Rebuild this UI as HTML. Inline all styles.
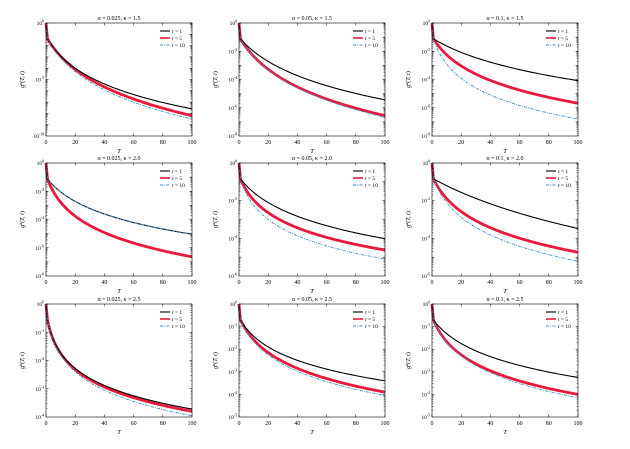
<!DOCTYPE html>
<html><head><meta charset="utf-8"><style>
html,body{margin:0;padding:0;background:#fff;}
svg{display:block;font-family:"Liberation Serif",serif;}
</style></head><body>
<svg id="s" width="630" height="449" xmlns="http://www.w3.org/2000/svg"></svg>
<script>
const svg=document.getElementById('s');
let h='';
const cols=[46,239,432], rows=[23,163,304], W=146, H=113;
const P=[
 {t:'α = 0.025, κ = 1.5',dec:10,lab:[0,-5,-10],c:[[0.76,0.40],[0.82,0.41],[0.85,0.43]]},
 {t:'α = 0.05, κ = 1.5',dec:8,lab:[0,-2,-4,-6,-8],c:[[0.68,0.34],[0.82,0.41],[0.835,0.415]]},
 {t:'α = 0.1, κ = 1.5',dec:8,lab:[0,-2,-4,-6,-8],c:[[0.51,0.26],[0.71,0.38],[0.85,0.49]]},
 {t:'α = 0.025, κ = 2.0',dec:8,lab:[0,-2,-4,-6,-8],c:[[0.63,0.34],[0.83,0.47],[0.63,0.34]]},
 {t:'α = 0.05, κ = 2.0',dec:6,lab:[0,-2,-4,-6],c:[[0.67,0.35],[0.77,0.44],[0.85,0.50]]},
 {t:'α = 0.1, κ = 2.0',dec:6,lab:[0,-2,-4,-6],c:[[0.58,0.26],[0.79,0.43],[0.87,0.48]]},
 {t:'α = 0.025, κ = 2.5',dec:4,lab:[0,-1,-2,-3,-4],c:[[0.93,0.57],[0.95,0.58],[0.99,0.60]]},
 {t:'α = 0.05, κ = 2.5',dec:5,lab:[0,-1,-2,-3,-4,-5],c:[[0.68,0.38],[0.78,0.43],[0.81,0.45]]},
 {t:'α = 0.1, κ = 2.5',dec:5,lab:[0,-1,-2,-3,-4,-5],c:[[0.65,0.35],[0.80,0.45],[0.83,0.46]]},
];
const f0=0.0, f1=0.14;
function solveS(r){let lo=0.01,hi=5000;for(let i=0;i<80;i++){let m=Math.sqrt(lo*hi);let v=Math.log(1+19/m)/Math.log(1+99/m);if(v>r)lo=m;else hi=m;}return Math.sqrt(lo*hi);}
const styles=[{c:'#000',w:1.1,d:''},{c:'#e8193c',w:2.8,d:''},{c:'#3f8fd0',w:0.9,d:'3,1.2,1,1.2'}];
const names=['t = 1','t = 5','t = 10'];
P.forEach((p,i)=>{
 const x0=cols[i%3], y0=rows[Math.floor(i/3)];
 const ys=v=>y0+(-v/p.dec)*H;
 for(let d=0;d<p.dec;d++){for(let k=2;k<10;k++){const yy=y0+((d+1-Math.log10(k))/p.dec)*H;
   h+=`<line x1="${x0}" y1="${yy}" x2="${x0+1.5}" y2="${yy}" stroke="#000" stroke-width="0.4"/><line x1="${x0+W}" y1="${yy}" x2="${x0+W-1.5}" y2="${yy}" stroke="#000" stroke-width="0.4"/>`;}
   const yy=ys(-d);h+=`<line x1="${x0}" y1="${yy}" x2="${x0+2.5}" y2="${yy}" stroke="#000" stroke-width="0.5"/><line x1="${x0+W}" y1="${yy}" x2="${x0+W-2.5}" y2="${yy}" stroke="#000" stroke-width="0.5"/>`;}
 p.lab.forEach(e=>{const yy=ys(e);h+=`<text x="${x0-2}" y="${yy+2}" font-size="5.5" text-anchor="end">10<tspan dy="-2.5" font-size="3.8">${e}</tspan></text>`;});
 for(let T=0;T<=100;T+=20){const xx=x0+T/100*W;h+=`<line x1="${xx}" y1="${y0+H}" x2="${xx}" y2="${y0+H-2.5}" stroke="#000" stroke-width="0.5"/><line x1="${xx}" y1="${y0}" x2="${xx}" y2="${y0+2.5}" stroke="#000" stroke-width="0.5"/><text x="${xx}" y="${y0+H+8}" font-size="6" text-anchor="middle">${T}</text>`;}
 h+=`<text x="${x0+W/2}" y="${y0+H+17}" font-size="6.5" font-style="italic" text-anchor="middle">T</text>`;
 h+=`<text x="${x0+W/2}" y="${y0-3}" font-size="6" text-anchor="middle">${p.t}</text>`;
 h+=`<text transform="translate(${x0-22},${y0+H/2}) rotate(-90)" font-size="6" text-anchor="middle"><tspan font-style="italic">g</tspan><tspan dy="-2" font-size="4">α</tspan><tspan dy="2">(</tspan><tspan font-style="italic">T, t</tspan>)</text>`;
 [1,0,2].forEach(j=>{const [fe,f20]=p.c[j];const r=(f20-f1)/(fe-f1);const s=solveS(r);const L=Math.log(1+99/s);
   let pts=[(x0).toFixed(2)+','+(y0+f0*H).toFixed(2)];
   for(let n=0;n<=200;n++){const T=1+99*Math.pow(n/200,2);const f=f1+(fe-f1)*Math.log(1+(T-1)/s)/L;pts.push((x0+T/100*W).toFixed(2)+','+(y0+f*H).toFixed(2));}
   const st=styles[j];h+=`<polyline points="${pts.join(' ')}" fill="none" stroke="${st.c}" stroke-width="${st.w}" ${st.d?`stroke-dasharray="${st.d}"`:''}/>`;});
 [0,1,2].forEach(j=>{const st=styles[j];const yy=y0+8+7*j;h+=`<line x1="${x0+W-32}" y1="${yy}" x2="${x0+W-22}" y2="${yy}" stroke="${st.c}" stroke-width="${j==1?1.6:st.w}" ${st.d?`stroke-dasharray="${st.d}"`:''}/><text x="${x0+W-20}" y="${yy+2}" font-size="5.5"><tspan font-style="italic">t</tspan>${names[j].slice(1)}</text>`;});
 h+=`<rect x="${x0}" y="${y0}" width="${W}" height="${H}" fill="none" stroke="#000" stroke-width="0.6"/>`;
});
svg.innerHTML=h;
</script>
</body></html>
